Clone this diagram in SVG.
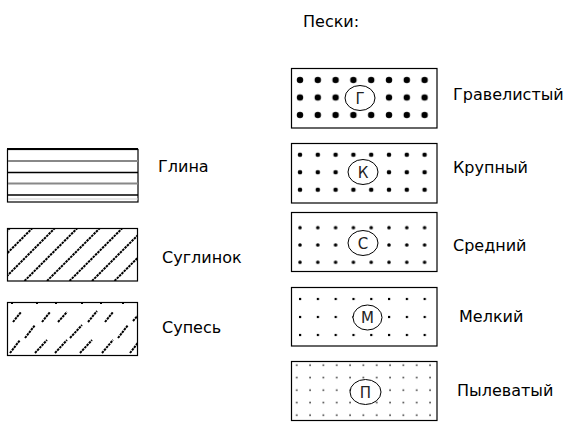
<svg xmlns="http://www.w3.org/2000/svg" width="576" height="423" viewBox="0 0 576 423">
<style>
.box{fill:#fff;stroke:#000;stroke-width:1.2}
.lbl{font-family:"DejaVu Sans",Verdana,sans-serif;font-size:16px;fill:#000}
.let{font-family:"DejaVu Sans",Verdana,sans-serif;font-size:15px;fill:#222;text-anchor:middle}
.ell{fill:#fff;stroke:#000;stroke-width:1}
.hatch{stroke:#000;stroke-width:2;stroke-dasharray:2.5 0.8}
</style>
<defs>
<pattern id="pG" patternUnits="userSpaceOnUse" x="291.1" y="71.25" width="17.8" height="17.5"><circle cx="8.9" cy="8.75" r="3.2" fill="#000"/></pattern>
<pattern id="pK" patternUnits="userSpaceOnUse" x="291.1" y="146" width="17.8" height="17.5"><circle cx="8.9" cy="8.75" r="2.3" fill="#000"/></pattern>
<pattern id="pS" patternUnits="userSpaceOnUse" x="291.1" y="219" width="17.8" height="17.3"><circle cx="8.9" cy="8.65" r="1.8" fill="#000"/></pattern>
<pattern id="pM" patternUnits="userSpaceOnUse" x="291.1" y="290" width="17.8" height="18"><rect x="7.9" y="7.9" width="2.2" height="2.2" fill="#000"/></pattern>
<pattern id="pP" patternUnits="userSpaceOnUse" x="290" y="359" width="13.33" height="12.5"><rect x="6" y="5.4" width="1.5" height="1.5" fill="#222"/></pattern>
<clipPath id="cSug"><rect x="7.5" y="228.5" width="130" height="52.5"/></clipPath>
<clipPath id="cSup"><rect x="7.5" y="302.5" width="130" height="53"/></clipPath>
</defs>

<text class="lbl" x="303" y="27">Пески:</text>

<g id="glina">
<rect class="box" x="7.5" y="149.5" width="130.5" height="52.5"/>
<line x1="7" y1="149" x2="138" y2="149" stroke="#000" stroke-width="2"/>
<line x1="8" y1="161" x2="138" y2="161" stroke="#888" stroke-width="2"/>
<line x1="8" y1="172.5" x2="138" y2="172.5" stroke="#000" stroke-width="1.3"/>
<line x1="8" y1="183.5" x2="138" y2="183.5" stroke="#888" stroke-width="2"/>
<line x1="8" y1="195" x2="138" y2="195" stroke="#000" stroke-width="1.3"/>
<line x1="8" y1="199" x2="138" y2="199" stroke="#ccc" stroke-width="1"/>
<text class="lbl" x="158" y="172">Глина</text>
</g>

<g id="suglinok">
<rect class="box" x="7.5" y="228.5" width="130" height="52.5"/>
<g clip-path="url(#cSug)">
<line class="hatch" x1="-43" y1="281" x2="10" y2="228"/>
<line class="hatch" x1="-20.5" y1="281" x2="32.5" y2="228"/>
<line class="hatch" x1="2" y1="281" x2="55" y2="228"/>
<line class="hatch" x1="24.5" y1="281" x2="77.5" y2="228"/>
<line class="hatch" x1="47" y1="281" x2="100" y2="228"/>
<line class="hatch" x1="69.5" y1="281" x2="122.5" y2="228"/>
<line class="hatch" x1="92" y1="281" x2="145" y2="228"/>
<line class="hatch" x1="114.5" y1="281" x2="167.5" y2="228"/>
</g>
<text class="lbl" x="162" y="263">Суглинок</text>
</g>

<g id="supes">
<rect class="box" x="7.5" y="302.5" width="130" height="53"/>
<g clip-path="url(#cSup)">
<g fill="#000">
<rect x="11" y="302" width="2" height="2"/><rect x="36" y="302" width="2" height="2"/><rect x="55" y="302" width="2" height="2"/><rect x="81" y="302" width="2" height="2"/><rect x="100" y="302" width="2" height="2"/><rect x="122" y="302" width="2" height="2"/>
</g>
<line class="hatch" x1="13" y1="322" x2="21" y2="312"/>
<line class="hatch" x1="42" y1="322" x2="50" y2="312"/>
<line class="hatch" x1="58" y1="322" x2="67" y2="312"/>
<line class="hatch" x1="88" y1="322" x2="97" y2="311"/>
<line class="hatch" x1="105" y1="322" x2="113" y2="312"/>
<line class="hatch" x1="133" y1="321" x2="140" y2="313"/>
<line class="hatch" x1="25" y1="338" x2="35" y2="325"/>
<line class="hatch" x1="70" y1="338" x2="82" y2="325"/>
<line class="hatch" x1="118" y1="338" x2="128" y2="325"/>
<line class="hatch" x1="10" y1="353" x2="20" y2="340"/>
<line class="hatch" x1="35" y1="353" x2="47" y2="340"/>
<line class="hatch" x1="55" y1="353" x2="67" y2="340"/>
<line class="hatch" x1="80" y1="353" x2="92" y2="340"/>
<line class="hatch" x1="102" y1="353" x2="113" y2="340"/>
<line class="hatch" x1="130" y1="353" x2="140" y2="340"/>
</g>
<text class="lbl" x="162" y="333">Супесь</text>
</g>

<g id="gravel">
<rect class="box" x="291.5" y="68.5" width="145.5" height="59.5"/>
<rect x="292" y="69" width="144.5" height="58.5" fill="url(#pG)"/>
<ellipse class="ell" cx="360" cy="98" rx="15" ry="12.5"/>
<text class="let" x="360" y="103.5">Г</text>
<text class="lbl" x="453" y="100">Гравелистый</text>
</g>

<g id="krupny">
<rect class="box" x="291.5" y="143.5" width="145.5" height="59.5"/>
<rect x="292" y="144" width="144.5" height="58.5" fill="url(#pK)"/>
<ellipse class="ell" cx="363" cy="172" rx="15" ry="12.5"/>
<text class="let" x="363" y="177.5">К</text>
<text class="lbl" x="453" y="173">Крупный</text>
</g>

<g id="sredny">
<rect class="box" x="291.5" y="212.5" width="145.5" height="59"/>
<rect x="292" y="213" width="144.5" height="58" fill="url(#pS)"/>
<ellipse class="ell" cx="363" cy="243" rx="15" ry="12.5"/>
<text class="let" x="363" y="248.5">С</text>
<text class="lbl" x="453" y="251">Средний</text>
</g>

<g id="melky">
<rect class="box" x="291.5" y="287.5" width="145.5" height="58.5"/>
<rect x="292" y="288" width="144.5" height="57.5" fill="url(#pM)"/>
<ellipse class="ell" cx="367.5" cy="317.5" rx="14.5" ry="12.5"/>
<text class="let" x="367.5" y="323">М</text>
<text class="lbl" x="459" y="322">Мелкий</text>
</g>

<g id="pylevaty">
<rect class="box" x="291.5" y="361.5" width="145.5" height="59"/>
<rect x="292" y="362" width="144.5" height="58" fill="url(#pP)"/>
<ellipse class="ell" cx="365.5" cy="392" rx="15.5" ry="12.5"/>
<text class="let" x="365.5" y="397.5">П</text>
<text class="lbl" x="457" y="396">Пылеватый</text>
</g>
</svg>
